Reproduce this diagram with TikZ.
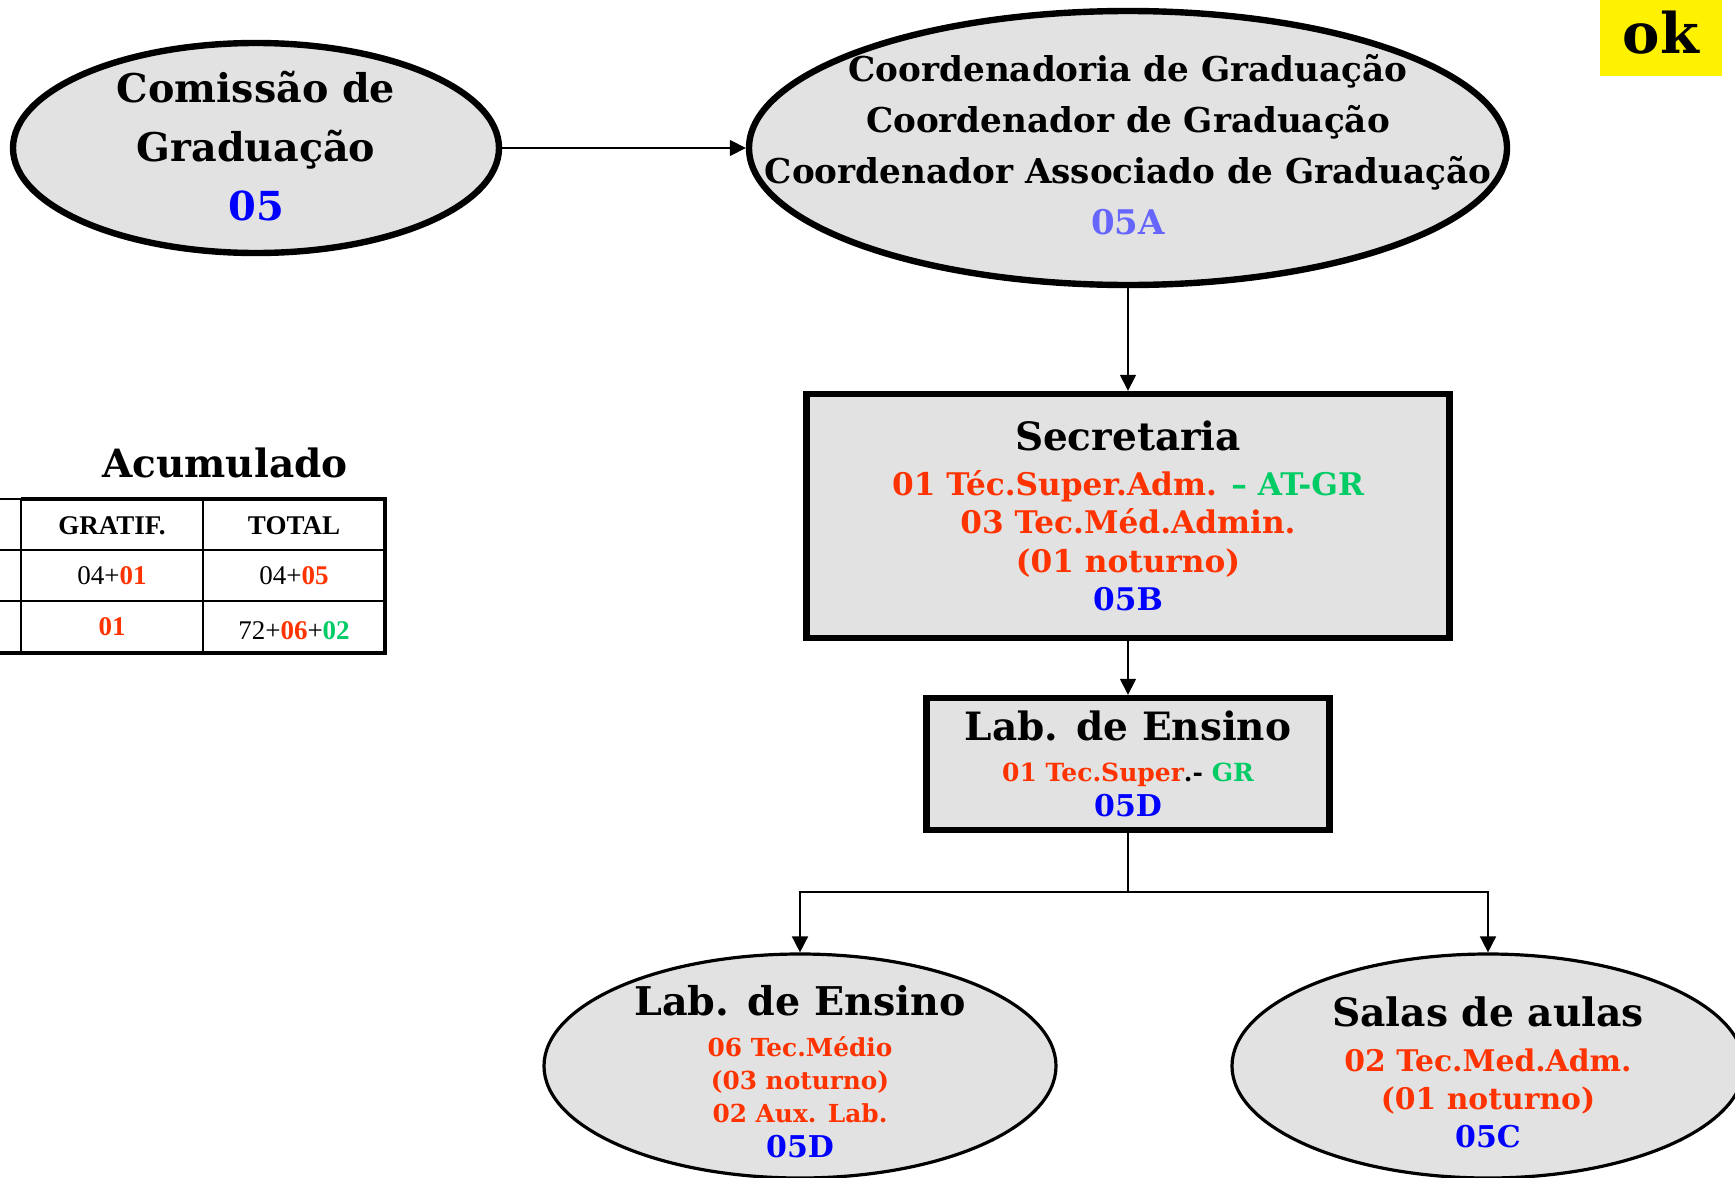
\documentclass[tikz,border=0pt]{standalone}
\usepackage{fontspec}
\setmainfont{DejaVu Serif}
\newfontfamily\tabfont{Liberation Serif}
\usetikzlibrary{shapes,arrows.meta}
\definecolor{qtdred}{HTML}{FF3300}
\definecolor{qtdgreen}{HTML}{00CC66}
\definecolor{codeblue}{HTML}{0000FF}
\definecolor{codelight}{HTML}{6666FF}
\definecolor{paper}{HTML}{E2E2E2}
\tikzstyle{unit_ellipse} = [ellipse, draw, fill=paper, line width=3.2pt, inner sep=0pt]
\tikzstyle{unit_box} = [rectangle, draw, fill=paper, line width=3.2pt, inner sep=0pt, align=center]
\tikzstyle{sub_ellipse} = [ellipse, draw, fill=paper, line width=1.6pt, inner sep=0pt]
\tikzstyle{node_text} = [align=center, inner sep=0pt]
\tikzstyle{link} = [line width=0.8pt]
\tikzstyle{link_arrow} = [link, -{Triangle[length=8pt,width=8pt]}]
\tikzstyle{cell_text} = [inner sep=0pt, font={\tabfont\fontsize{13.5}{15}\selectfont}]

\begin{document}
\begin{tikzpicture}[x=0.5pt, y=-0.5pt]
		\useasboundingbox (0,0) rectangle (1735,1178);
		\clip (0,0) rectangle (1735,1178);

		\node (comissao) at (256,148) [unit_ellipse, minimum width=243pt, minimum height=105pt] {};
		\node (comissao_txt) at ([yshift=1pt]comissao.center) [node_text, font={\fontsize{19.8}{29.5}\selectfont\bfseries}] {Comissão de\\Graduação\\{\fontsize{20}{29}\selectfont\color{codeblue}05}};

		\node (coord) at (1128,148) [unit_ellipse, minimum width=379pt, minimum height=137pt] {};
		\node (coord_txt) at ([yshift=1.5pt]coord.center) [node_text, font={\fontsize{17.1}{25.5}\selectfont\bfseries}] {Coordenadoria de Graduação\\Coordenador de Graduação\\Coordenador Associado de Graduação\\{\fontsize{17}{25.5}\selectfont\color{codelight}05A}};

		\node (secretaria) at (1128,516) [unit_box, minimum width=321.5pt, minimum height=122pt, text=qtdred, font={\fontsize{15.6}{19.3}\selectfont\bfseries}] {{\fontsize{19.5}{19}\selectfont\color{black}Secretaria}\\[3pt]01 Téc.Super.Adm. \textcolor{qtdgreen}{– AT-GR}\\03 Tec.Méd.Admin.\\(01 noturno)\\\textcolor{codeblue}{05B}};

		\node (lab_box) at (1128,764) [unit_box, minimum width=201.5pt, minimum height=66pt, text=qtdred, font={\fontsize{12.5}{17.5}\selectfont\bfseries}] {{\fontsize{19.5}{19}\selectfont\color{black}Lab. de Ensino}\\[3pt]01 Tec.Super\textcolor{black}{.-} \textcolor{qtdgreen}{GR}\\{\fontsize{15}{15}\selectfont\color{codeblue}05D}};

		\node (lab_ensino) at (800,1066) [sub_ellipse, minimum width=256pt, minimum height=112pt] {};
		\node (lab_ensino_txt) at ([yshift=-3pt]lab_ensino.center) [node_text, text=qtdred, font={\fontsize{12.4}{16.5}\selectfont\bfseries}] {{\fontsize{19.8}{19}\selectfont\color{black}Lab. de Ensino}\\[4pt]06 Tec.Médio\\(03 noturno)\\02 Aux. Lab.\\[1pt]{\fontsize{15}{15}\selectfont\color{codeblue}05D}};

		\node (salas) at (1488,1066) [sub_ellipse, minimum width=256pt, minimum height=112pt] {};
		\node (salas_txt) at ([yshift=-3pt]salas.center) [node_text, text=qtdred, font={\fontsize{14.9}{19}\selectfont\bfseries}] {{\fontsize{19.6}{19}\selectfont\color{black}Salas de aulas}\\[3.5pt]02 Tec.Med.Adm.\\(01 noturno)\\{\fontsize{15}{15}\selectfont\color{codeblue}05C}};

		\node (ok_tag) at (1661,38) [fill=yellow, minimum width=61pt, minimum height=38pt, inner sep=0pt, text depth=6pt, font={\fontsize{28}{28}\selectfont\bfseries}] {ok};

		\draw[link_arrow] (comissao.east) -- (coord.west);
		\draw[link_arrow] (coord) -- (secretaria);
		\draw[link_arrow] (secretaria) -- (lab_box);
		\coordinate (split) at (1128,892);
		\draw[link] (lab_box) -- (split);
		\draw[link_arrow] (split) -| (lab_ensino);
		\draw[link_arrow] (split) -| (salas);

		% acumulado table
		\node (acumulado) at (225,463) [font={\fontsize{19.5}{20}\selectfont\bfseries}] {Acumulado};
		\draw[line width=0.9pt] (0,499) -- (21,499) (0,550) -- (385,550) (0,601) -- (385,601) (21,499) -- (21,653) (203,499) -- (203,653);
		\draw[line width=2.2pt] (21,499) -- (385,499) -- (385,653) -- (0,653);
		\node (gratif) at (112,526) [cell_text] {\bfseries GRATIF.};
		\node (total) at (294,526) [cell_text] {\bfseries TOTAL};
		\node (gratif_a) at (112,576) [cell_text] {04+\textcolor{qtdred}{\bfseries 01}};
		\node (total_a) at (294,576) [cell_text] {04+\textcolor{qtdred}{\bfseries 05}};
		\node (gratif_b) at (112,627) [cell_text] {\textcolor{qtdred}{\bfseries 01}};
		\node (total_b) at (294,631) [cell_text] {72+\textcolor{qtdred}{\bfseries 06}+\textcolor{qtdgreen}{\bfseries 02}};
		\end{tikzpicture}
\end{document}
